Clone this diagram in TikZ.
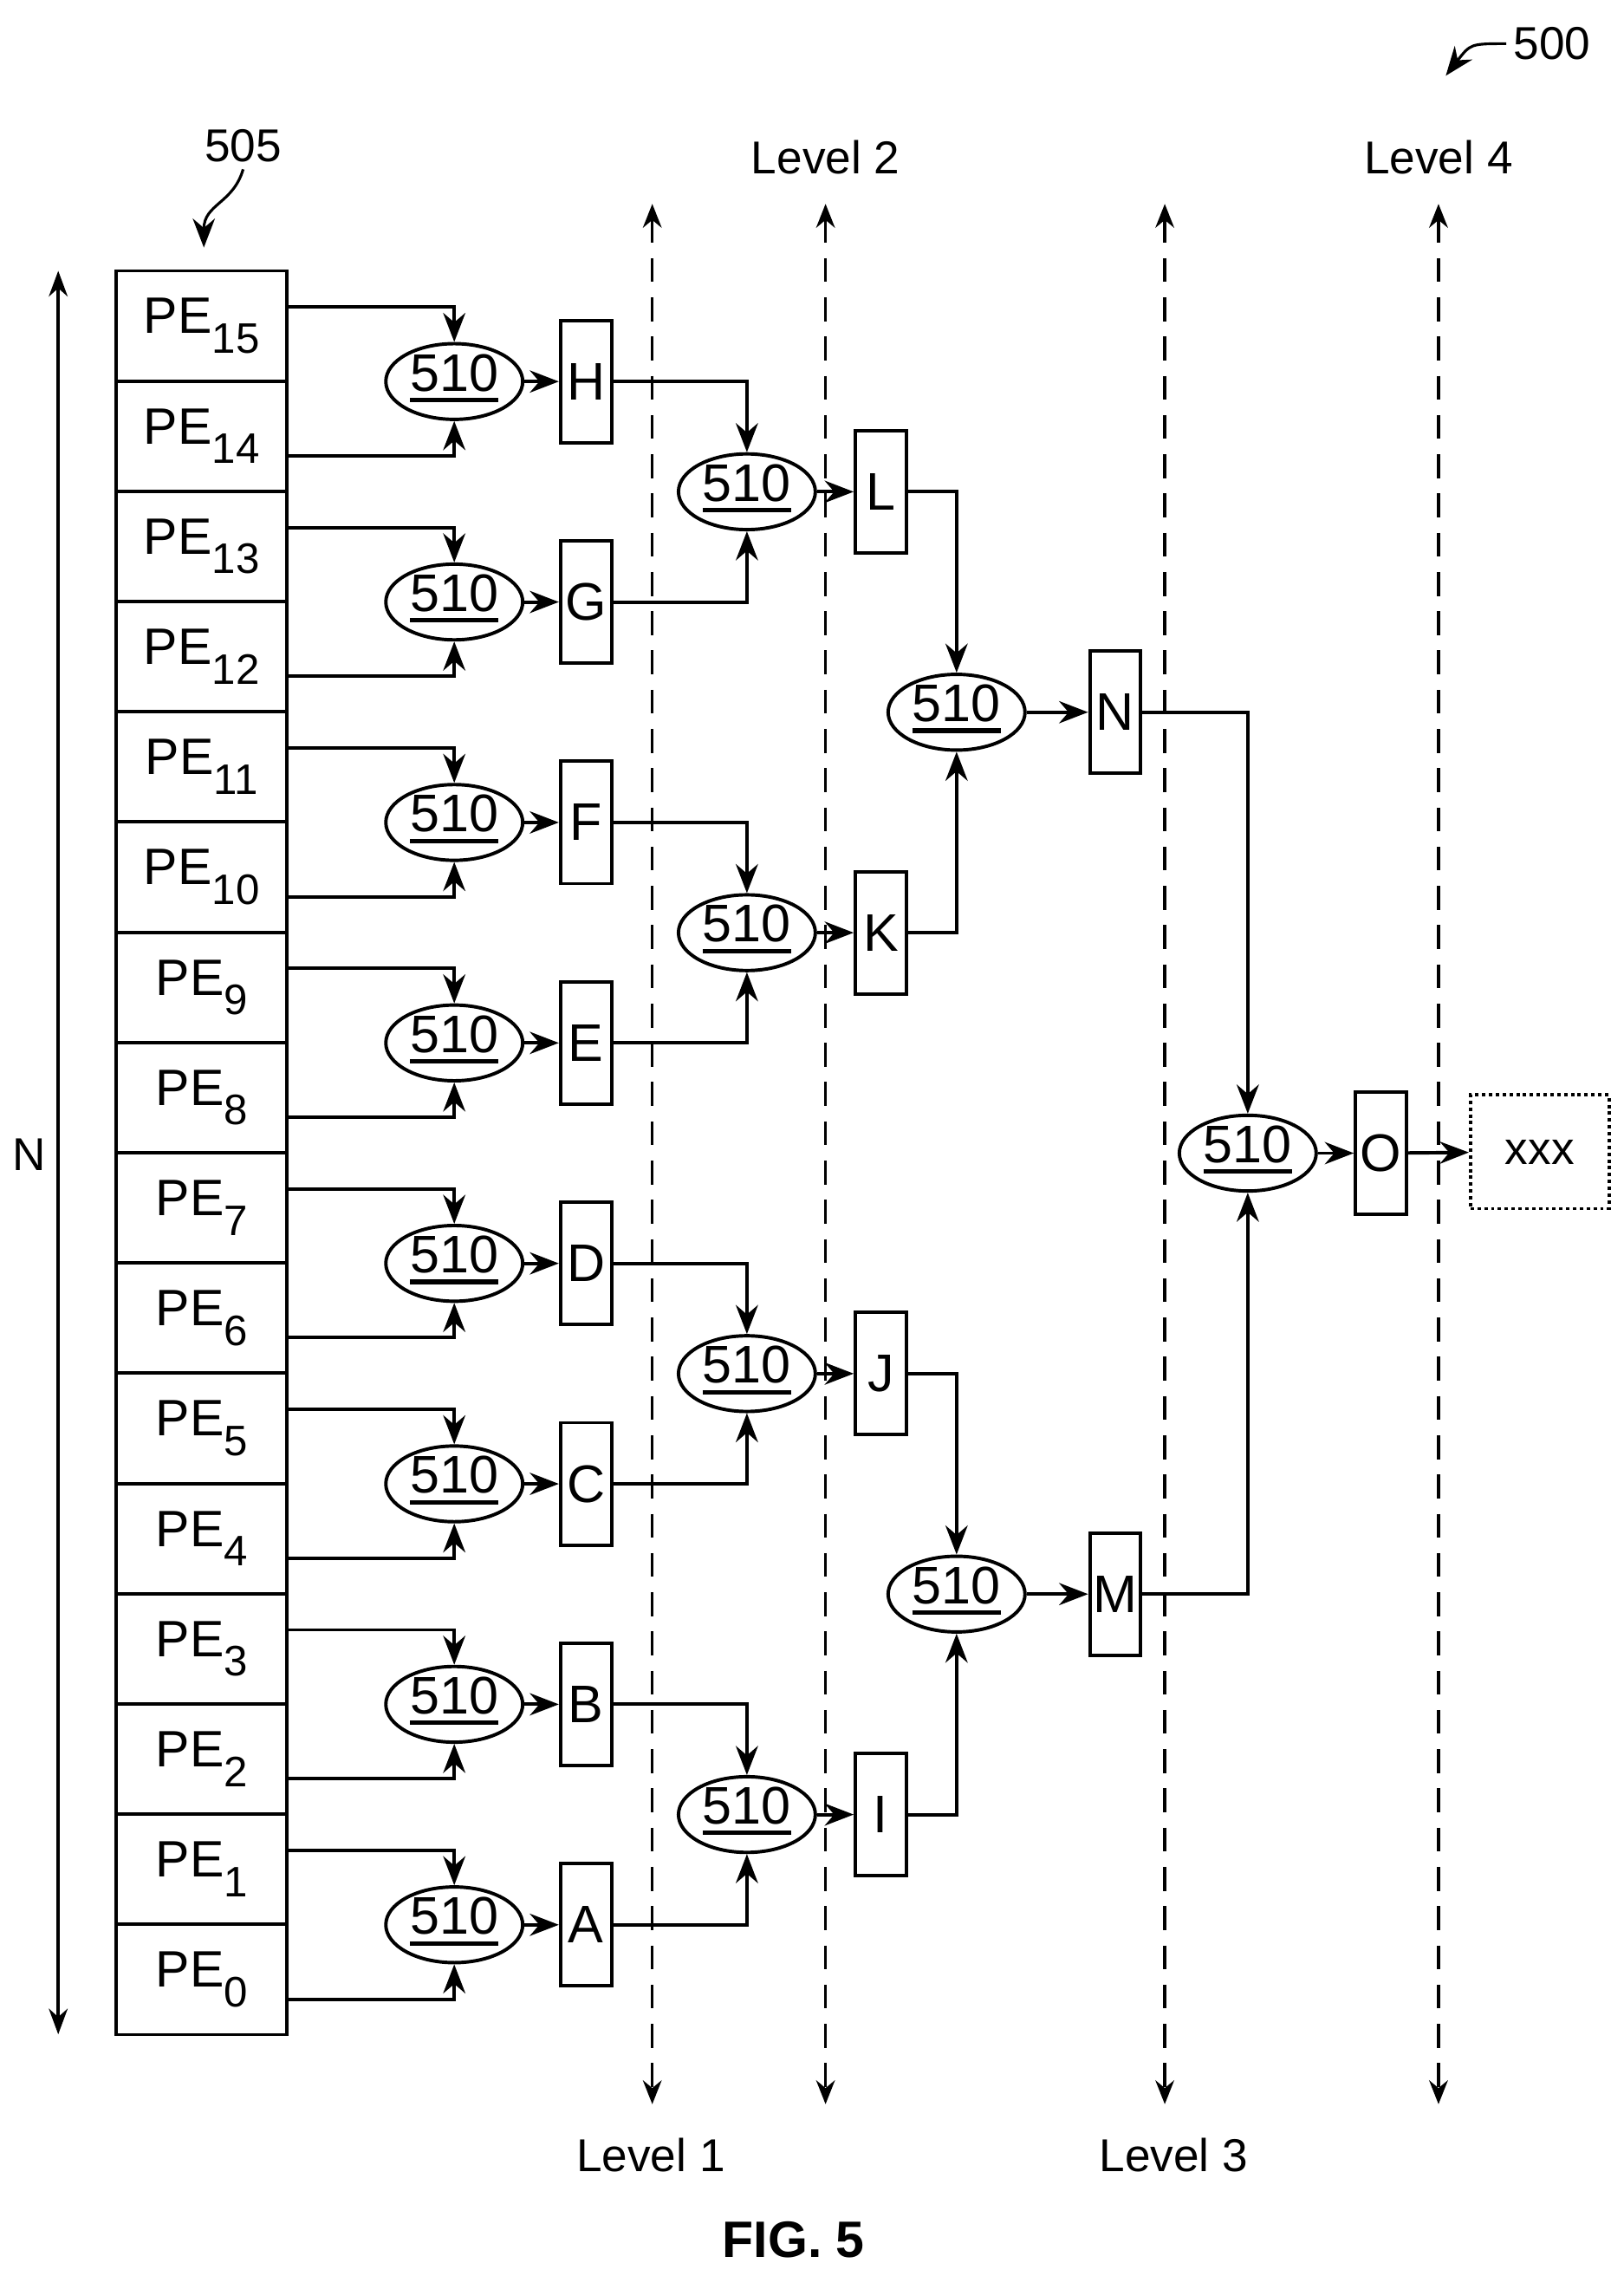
\documentclass[tikz,border=0pt]{standalone}
\usepackage{fontspec}
\setmainfont{Liberation Sans}
\usetikzlibrary{arrows.meta,shapes.geometric,calc}
\newcommand{\ul}[1]{\tikz[baseline=(u.base)]{\node[inner sep=0,outer sep=0](u){#1};\draw[line width=2.6pt] ([yshift=-5pt]u.south west)--([yshift=-5pt]u.south east);}}
\newcommand{\pesub}[1]{PE\raisebox{-0.38em}{\fontsize{25}{25}\selectfont #1}}
\begin{document}
\begin{tikzpicture}[x=0.03cm,y=-0.03cm,
  line width=2pt,
  arr/.style={-{Stealth[length=17pt,width=13pt]}},
  pe/.style={draw,minimum width=3.51cm,minimum height=2.271cm,inner sep=0,font=\fontsize{30}{30}\selectfont},
  op/.style={draw,ellipse,minimum width=2.82cm,minimum height=1.56cm,inner sep=0,
    label={[font=\fontsize{31}{31}\selectfont,inner sep=0,yshift=2pt]center:\ul{510}}},
  bx/.style={draw,minimum width=1.05cm,minimum height=2.52cm,inner sep=0,font=\fontsize{31}{31}\selectfont},
  lvl/.style={dashed,{Stealth[length=14pt,width=11pt]}-{Stealth[length=14pt,width=11pt]},dash pattern=on 14pt off 9pt},
  lbl/.style={font=\fontsize{27}{27}\selectfont}]
\useasboundingbox (0,0) rectangle (1115,1563);
% PE column
\foreach \k in {0,...,15}{
  \pgfmathtruncatemacro{\n}{15-\k}
  \node[pe] (p\k) at (138.5,{186+75.7*(\k+0.5)}) {\pesub{\n}};
}
% Level 1
\foreach \j/\L in {0/H,1/G,2/F,3/E,4/D,5/C,6/B,7/A}{
  \pgfmathtruncatemacro{\a}{2*\j}
  \pgfmathtruncatemacro{\b}{2*\j+1}
  \node[op] (e1\j) at (312,{262+151.4*\j}) {};
  \node[bx] (b\L) at (402.5,{262+151.4*\j}) {\L};
  \draw[arr] ($(p\a.east)+(0,-13)$) -| (e1\j.north);
  \draw[arr] ($(p\b.east)+(0,13.5)$) -| (e1\j.south);
  \draw[arr] (e1\j) -- (b\L);
}
% Level 2
\foreach \m/\T/\B/\L in {0/H/G/L,1/F/E/K,2/D/C/J,3/B/A/I}{
  \node[op] (e2\m) at (513,{337.7+302.8*\m}) {};
  \node[bx] (b\L) at (605,{337.7+302.8*\m}) {\L};
  \draw[arr] (b\T.east) -| (e2\m.north);
  \draw[arr] (b\B.east) -| (e2\m.south);
  \draw[arr] (e2\m) -- (b\L);
}
% Level 3
\foreach \m/\T/\B/\L in {0/L/K/N,1/J/I/M}{
  \node[op] (e3\m) at (657,{489.1+605.6*\m}) {};
  \node[bx] (b\L) at (766,{489.1+605.6*\m}) {\L};
  \draw[arr] (b\T.east) -| (e3\m.north);
  \draw[arr] (b\B.east) -| (e3\m.south);
  \draw[arr] (e3\m) -- (b\L);
}
% Level 4
\node[op] (e4) at (857,791.9) {};
\node[bx] (bO) at (948.5,791.9) {O};
\node[draw,dotted,minimum width=2.85cm,minimum height=2.34cm,inner sep=0,font=\fontsize{27}{27}\selectfont] (xxx) at (1057.5,791) {xxx};
\draw[arr] (bN.east) -| (e4.north);
\draw[arr] (bM.east) -| (e4.south);
\draw[arr] (e4) -- (bO);
\draw[arr] (bO) -- (xxx);
% Level lines
\foreach \x/\nm in {448/l1,567/l2,800/l3,988/l4}{
  \coordinate (\nm t) at (\x,140);
  \coordinate (\nm b) at (\x,1445);
  \draw[lvl,line width=1.7pt] (\nm t) -- (\nm b);
}
\node[lbl] (L1) at (447,1480) {Level 1};
\node[lbl] (L2) at (567,108) {Level 2};
\node[lbl] (L3) at (806,1480) {Level 3};
\node[lbl] (L4) at (988,108) {Level 4};
% N
\coordinate (nt) at (40,186);
\coordinate (nb) at (40,1397);
\draw[{Stealth[length=15pt,width=11pt]}-{Stealth[length=15pt,width=11pt]}] (nt) -- (nb);
\node[lbl] (Nl) at (20,793) {N};
% refs
\node[lbl] (r500) at (1066,30) {500};
\coordinate (r500a) at (993,52);
\draw[arr,line width=1.6pt] (r500.west) .. controls (1010,30) .. (r500a);
\node[lbl] (r505) at (167,100) {505};
\coordinate (r505a) at (140,170);
\draw[arr,line width=1.6pt] (r505.south) .. controls (160,140) and (140,140) .. (r505a);
\node[font=\fontsize{30}{30}\selectfont\bfseries] (fig) at (545,1538) {FIG. 5};
\end{tikzpicture}
\end{document}
